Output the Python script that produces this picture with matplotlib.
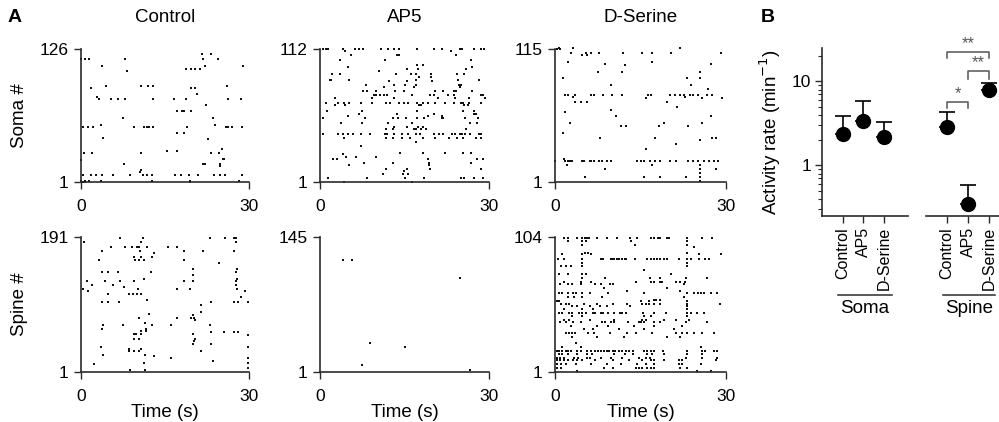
import numpy as np
import matplotlib
matplotlib.use("Agg")
import matplotlib.pyplot as plt
from matplotlib.ticker import LogLocator, NullFormatter, FixedLocator
import matplotlib.transforms as mtransforms

plt.rcParams['font.family'] = ['Liberation Sans', 'DejaVu Sans']

# ---------------- Data: raster rows as (cell index, [event times in s]) ----------------
soma_control_rows = [
    (121, [21.6, 23.2]), (117, [0.0, 0.8, 1.4, 7.8, 21.8, 24.5]), (110, [3.8, 22.1, 29.0]),
    (107, [18.7, 19.6, 20.4, 21.2]), (105, [8.3]), (91, [4.4, 10.8, 12.0, 12.8, 26.0]),
    (89, [1.7, 19.7, 20.4]), (84, [20.7]), (81, [2.8]),
    (79, [3.2, 5.4, 6.6, 7.9, 12.8, 16.6, 18.7, 26.2, 28.6]), (73, [22.3]),
    (68, [17.2, 18.1, 18.4, 19.7]), (61, [7.5, 23.5]), (55, [3.5, 24.0]),
    (53, [0.4, 1.3, 2.2, 9.5, 11.3, 11.7, 12.2, 12.8, 18.9, 25.9, 26.3, 26.9, 28.8]),
    (47, [17.2, 18.4]), (42, [3.9]), (41, [22.6]), (32, [25.2]), (30, [15.3, 17.2]),
    (28, [0.5, 2.0, 10.8, 23.3, 24.7]), (23, [25.3, 25.5]), (22, [0.06]),
    (18, [7.7, 21.7, 22.1, 24.9]), (16, [24.9]), (12, [10.7]), (10, [10.5]),
    (8, [0.4, 1.7, 2.6, 3.7, 5.7, 8.7, 11.0, 11.7, 12.6, 16.8, 17.8, 19.3, 20.9, 23.8, 24.9, 25.8, 28.8]),
    (2, [0.06, 0.8, 1.4, 3.5, 12.6, 19.4, 28.2]), (1, [0.3, 0.8, 19.5]),
]
soma_ap5_rows = [
    (112, [0.6, 1.1, 1.5, 4.0, 6.3, 6.9, 7.6, 10.8, 12.0, 13.1, 14.0, 17.3, 20.2, 21.7, 24.8, 25.2, 27.3, 28.5, 29.2]),
    (110, [4.4, 23.2]), (107, [5.5, 13.6, 14.0, 24.1]), (103, [3.5, 11.5, 26.8]), (99, [17.3, 18.2]),
    (97, [4.9, 27.0]), (95, [15.4, 17.4, 25.9]), (94, [10.5]),
    (91, [2.1, 3.6, 13.5, 16.1, 17.1, 19.7, 24.4, 25.5]), (89, [17.6, 19.7]),
    (86, [1.7, 2.0, 5.1, 17.1, 24.5, 28.3]), (85, [12.3, 15.4, 19.8]),
    (82, [8.1, 13.2, 15.1, 17.1, 24.6, 25.0]), (80, [11.4, 16.7, 24.9]),
    (77, [7.6, 8.4, 10.0, 13.3, 14.9, 20.4, 21.8, 23.7, 24.1, 27.0]),
    (74, [9.6, 9.9, 10.6, 11.3, 11.9, 16.3, 19.5, 20.2, 22.8, 23.7, 28.6, 28.9]),
    (71, [2.7, 9.3, 13.1, 21.0, 24.0, 26.5, 29.3]),
    (67, [1.0, 3.2, 4.3, 5.1, 7.3, 9.3, 11.8, 12.4, 14.0, 14.9, 15.7, 17.3, 18.2, 19.1, 20.4, 22.2, 23.7, 25.1, 25.4, 26.5, 28.6]),
    (65, [2.6, 4.5, 17.6, 18.0, 25.5, 26.3]), (60, [1.2, 7.5, 17.3, 25.3, 27.3]),
    (58, [7.0, 13.6, 20.3, 27.3, 27.7]), (56, [4.9, 19.1, 21.6]),
    (54, [0.6, 7.9, 13.0, 13.9, 15.2, 17.3, 18.5, 21.6, 21.8, 25.8, 28.0]),
    (50, [3.75, 7.5, 12.1, 16.4, 26.7, 27.9]), (47, [13.1, 15.5, 17.4, 18.3]),
    (45, [11.7, 12.9, 16.6, 17.0, 18.0, 18.9, 26.0]),
    (41, [0.6, 3.2, 4.0, 4.9, 5.8, 7.3, 8.8, 11.5, 11.9, 13.1, 14.5, 15.7, 17.0, 17.7, 20.3, 21.2, 21.9, 23.4, 24.0, 24.8, 25.2, 25.7, 26.7, 28.3, 28.6]),
    (38, [4.2, 11.8, 12.9, 14.6, 16.0, 18.2, 20.4, 22.9, 24.3, 25.4, 27.7, 28.6]),
    (34, [17.0]), (31, [7.3]), (25, [14.2, 18.2, 22.2, 25.4, 26.8]), (24, [4.0]),
    (22, [4.6, 6.4, 9.9]), (20, [2.3, 3.0, 19.1, 27.9, 28.9]), (17, [7.8, 13.0, 19.3, 26.8]),
    (15, [5.1, 19.4]), (12, [11.7, 15.4, 19.5, 28.6]), (10, [14.9]), (8, [11.2, 14.8, 15.7]),
    (4, [1.5, 8.4, 15.1, 18.5, 25.0, 25.5, 27.3, 28.9]), (1, [4.3, 16.3]),
]
soma_dser_rows = [
    (116, [0.65, 3.1, 22.0]), (115, [0.35, 0.8]),
    (112, [2.8, 5.4, 6.4, 7.8, 11.9, 15.3, 17.1, 20.3, 29.2]), (110, [4.8, 5.6]),
    (104, [2.25, 17.1]), (102, [8.8, 27.3]), (101, [12.3]), (95, [7.6, 11.8, 25.5]),
    (90, [1.4, 23.1, 25.5]), (84, [9.8, 23.9]), (81, [26.8]),
    (76, [1.7, 2.25, 3.5, 6.4, 6.9, 8.5, 10.0, 11.8, 16.3, 16.9, 20.2, 21.1, 22.0, 22.7, 23.6, 24.2, 25.1, 26.7, 27.5]),
    (74, [3.1, 22.8]), (73, [16.0, 25.8, 29.3]), (70, [3.5, 4.6, 5.6, 19.6]), (65, [21.4]),
    (63, [9.8]), (61, [1.7]), (58, [10.7, 27.3]), (52, [2.7, 19.2, 25.8]),
    (49, [11.6, 12.4, 18.3, 23.4]), (43, [1.4]), (39, [7.9, 17.5, 27.5, 28.2]), (37, [25.4]),
    (34, [21.2]), (29, [16.0]), (21, [1.5]),
    (19, [0.0, 1.7, 2.2, 2.7, 2.9, 4.7, 5.1, 6.1, 6.4, 6.9, 7.8, 8.3, 9.1, 9.8, 14.4, 15.0, 15.6, 16.6, 17.5, 18.5, 20.2, 21.2, 23.4, 24.2, 25.1, 26.1, 27.0, 27.9, 28.6]),
    (16, [2.1, 17.1, 25.5]), (12, [8.8, 25.5, 28.3]), (9, [25.5]),
    (5, [5.2, 15.6, 18.4, 23.0, 25.5]), (2, [25.5]),
]
spine_control_rows = [
    (189, [6.9, 11.0, 23.1, 25.8, 27.4, 27.7]), (184, [0.5, 10.7, 27.6]),
    (177, [5.4, 7.8, 9.1, 10.0, 10.4, 11.7, 15.5, 17.2]), (172, [3.7, 10.6, 18.4, 21.8, 27.3]),
    (168, [13.0]), (163, [9.4, 10.7, 12.6]), (158, [3.3, 9.7, 10.4, 11.3, 18.4]), (154, [24.7]),
    (146, [20.0, 27.9]), (142, [3.7, 4.8, 6.6, 12.5, 27.7]), (138, [20.0]), (132, [11.3, 27.9]),
    (129, [1.1, 4.2, 6.9, 9.4, 18.4, 20.0, 27.6]), (124, [1.9, 5.7, 27.7]), (121, [7.75]),
    (118, [0.4, 10.1, 17.2, 19.4, 27.9]), (115, [1.2, 29.2]), (111, [4.8, 8.6, 9.2, 10.0, 10.7]),
    (107, [28.5]), (103, [11.7]), (100, [3.7, 4.8, 6.7, 23.3, 27.4, 28.0, 29.9]), (96, [21.5]),
    (86, [21.5]), (83, [12.1]), (81, [20.0]), (77, [10.3, 17.2, 19.6, 20.2]), (74, [20.3]),
    (70, [11.5]), (67, [3.9, 7.5, 12.6, 16.1, 23.1]), (62, [3.7, 11.6]), (59, [10.7, 11.6]),
    (57, [23.3, 25.6, 27.4, 28.0]), (55, [9.4, 9.8, 10.7, 20.0]), (53, [29.8]),
    (48, [9.4, 10.3, 20.3]), (44, [20.2]), (41, [20.0, 23.3]), (36, [3.6, 29.8]),
    (33, [8.5, 10.7]), (31, [8.6, 9.4, 10.3, 21.5]), (25, [3.9, 11.4]), (23, [13.0]),
    (21, [16.1, 29.8]), (17, [23.6]), (14, [11.2, 29.8]), (12, [2.4]), (6, [29.8]), (4, [8.8, 11.5]),
]
spine_ap5_rows = [
    (120, [4.1, 5.6]), (101, [24.9]), (32, [8.9]), (28, [15.0]), (9, [7.5]), (3, [26.7]),
]
spine_dser_rows = [
    (103, [1.5, 2.3, 3.8, 4.8, 5.2, 5.7, 5.95, 7.3, 9.2, 10.9, 13.2, 14.4, 16.8, 17.4, 18.0, 18.5, 19.7, 20.0, 23.2, 25.8, 27.6]),
    (101, [2.2, 4.8, 5.4, 13.3, 23.1]), (98, [4.7, 14.0, 23.2]), (96, [24.3]), (92, [5.2, 5.8, 23.2]),
    (91, [1.3, 4.7, 6.3, 25.3, 29.1]),
    (87, [0.5, 1.5, 4.7, 8.0, 8.5, 9.8, 10.1, 10.4, 10.8, 11.2, 11.8, 12.2, 12.4, 14.0, 16.2, 16.8, 17.4, 17.95, 18.5, 19.1, 19.7, 21.8, 23.1, 23.8, 25.3, 26.4, 27.0]),
    (84, [4.8, 23.1]), (82, [1.1, 2.0, 2.75, 4.8, 23.2]), (79, [15.6]), (76, [0.7, 2.2, 4.8, 5.5, 20.3]),
    (73, [4.8, 8.7, 16.7, 18.5, 22.9, 26.7]),
    (70, [1.5, 4.5, 6.3, 14.2, 16.8, 17.4, 18.4, 18.8, 21.3, 21.9, 22.8]),
    (68, [0.9, 2.2, 2.9, 4.5, 7.1, 8.0, 9.6, 10.1, 22.6]), (65, [8.6, 19.7]), (63, [12.6, 22.0]),
    (61, [0.7, 1.3, 2.2, 3.2, 3.6, 4.8, 6.1, 9.3, 15.6, 23.1, 24.4, 25.0, 25.6, 26.1, 27.3, 28.5]),
    (58, [2.2, 3.4, 4.8, 8.3, 22.7]), (56, [17.3, 17.8, 18.4]), (55, [0.4, 0.7, 15.1, 16.5, 23.1]),
    (53, [1.0, 1.9, 2.5, 5.1, 7.4, 10.1, 12.7, 15.3, 15.9, 16.5, 17.4, 18.4, 23.1, 29.0]),
    (51, [3.0, 3.8, 6.1, 7.9, 9.2, 13.2, 23.2]), (49, [1.5, 4.8, 6.7, 23.1]),
    (46, [0.7, 1.3, 2.5, 3.0, 4.2, 4.8, 5.4, 6.7, 7.1, 8.0, 8.5, 9.3, 10.4, 11.4, 11.8, 12.4, 15.5, 17.4, 19.4, 23.2, 23.8, 24.9, 26.1]),
    (44, [3.0, 4.8, 15.6, 16.8, 23.2]), (41, [1.5, 2.5, 6.1, 10.4, 15.2, 15.9, 19.1, 21.2, 23.5]),
    (39, [0.9, 1.9, 3.2, 4.6, 8.3, 8.7, 9.9, 10.4, 12.8, 14.7, 15.1, 15.6, 17.4, 18.4, 22.9, 26.7]),
    (36, [2.75, 7.4, 9.3, 13.9, 17.4, 22.3]), (34, [5.1, 6.7, 11.2, 15.6, 20.8]),
    (31, [1.9, 2.5, 3.0, 3.5, 5.8, 6.8, 9.6, 12.7, 14.2, 17.1, 21.3, 22.3, 23.2, 24.4, 25.8, 27.9]),
    (28, [3.0, 7.4, 12.1, 19.7, 21.9]), (23, [3.6]), (20, [1.3, 4.5, 25.6]),
    (17, [0.3, 0.7, 1.3, 1.9, 2.3, 2.75, 3.9, 4.5, 5.6, 6.3, 7.1, 7.5, 8.0, 8.6, 9.1, 9.5, 10.1, 10.6, 11.2, 11.8, 12.4, 13.0, 13.6, 15.6, 16.2, 16.8, 17.4, 19.0, 23.2, 25.8, 26.4, 27.9, 28.5]),
    (15, [0.7, 1.3, 2.2, 3.9, 5.7, 6.5, 10.4, 12.2, 13.6, 16.2, 17.1, 19.1, 23.2, 25.8]),
    (12, [0.4, 0.9, 1.6, 3.3, 4.0, 5.6, 6.1, 8.0, 9.8, 11.8, 14.7, 15.9, 16.7, 22.9, 25.8, 28.5]),
    (10, [0.4, 0.9, 1.5, 2.2, 3.2, 3.8, 4.8, 7.1, 10.1, 13.0, 15.3, 16.8, 17.4, 19.1, 21.8, 22.3, 28.2]),
    (7, [0.4, 1.0, 1.9, 3.6, 6.3, 9.2, 11.5, 14.4, 15.9, 17.4, 21.8, 22.3, 25.6]),
    (4, [0.4, 1.0, 8.6, 10.2, 14.2, 14.7, 15.3, 16.2, 16.8, 17.4, 22.0, 23.2]),
    (2, [3.9, 24.9, 27.3]),
]

conditions = ["Control", "AP5", "D-Serine"]
soma_counts = [126, 112, 115]
spine_counts = [191, 145, 104]
duration = 30

# Panel B: activity rates (min^-1), mean and upper error
soma_rate = [2.34, 3.34, 2.2]
soma_err_top = [3.83, 5.78, 3.3]
spine_rate = [2.9, 0.35, 8.0]
spine_err_top = [4.3, 0.59, 9.6]

# ---------------- Figure ----------------
W, H = 999, 422
fig = plt.figure(figsize=(W / 100, H / 100), dpi=100)
axcol = '#2b2b2b'


def px_rect(x0, x1, y_top, y_bot):
    return [x0 / W, 1 - y_bot / H, (x1 - x0) / W, (y_bot - y_top) / H]


col_x = [(81, 249), (320, 489), (555, 726)]
row_y = [(49, 182), (237, 372)]
raster_rows = [[soma_control_rows, soma_ap5_rows, soma_dser_rows],
               [spine_control_rows, spine_ap5_rows, spine_dser_rows]]
counts = [soma_counts, spine_counts]
ylabels = ["Soma #", "Spine #"]

for r in range(2):
    for c in range(3):
        ax = fig.add_axes(px_rect(col_x[c][0], col_x[c][1], row_y[r][0], row_y[r][1]))
        rows = raster_rows[r][c]
        ts = np.concatenate([np.array(t, float) for _, t in rows])
        cs = np.concatenate([np.full(len(t), cell, float) for cell, t in rows])
        ax.scatter(ts, cs, s=1.5, marker='s', color='#111111', linewidths=0, clip_on=False)
        n = counts[r][c]
        ax.set_xlim(0, duration)
        ax.set_ylim(1, n)
        ax.set_xticks([0, duration])
        ax.set_yticks([1, n])
        ax.set_xticklabels(["0", "30"])
        ax.set_yticklabels(["1", str(n)])
        for s in ['top', 'right']:
            ax.spines[s].set_visible(False)
        for s in ['left', 'bottom']:
            ax.spines[s].set_color(axcol)
            ax.spines[s].set_linewidth(1.2)
        ax.tick_params(direction='out', length=5, width=1.0, color=axcol,
                       labelsize=12.5, pad=4)
        ax.tick_params(axis='x', pad=7)
        if c == 0:
            ax.set_ylabel(ylabels[r], fontsize=13.5, labelpad=8)
        if r == 1:
            ax.set_xlabel("Time (s)", fontsize=13.5, labelpad=0)
        if r == 0:
            fig.text((col_x[c][0] + col_x[c][1]) / 2 / W, 1 - 18 / H, conditions[c],
                     ha='center', va='center', fontsize=13.5)

fig.text(15 / W, 1 - 18 / H, "A", ha='center', va='center', fontsize=14, fontweight='bold')
fig.text(768 / W, 1 - 18 / H, "B", ha='center', va='center', fontsize=14, fontweight='bold')

# ---------------- Panel B ----------------
yl = (0.25, 25)
axs = fig.add_axes(px_rect(822, 908, 48, 216))
axp = fig.add_axes(px_rect(926, 999.5, 48, 216))
x_pos = np.arange(3)
for ax, rate, top, xl in [(axs, soma_rate, soma_err_top, (-1.02, 3.17)),
                          (axp, spine_rate, spine_err_top, (-1.0, 2.5))]:
    rate = np.array(rate)
    top = np.array(top)
    ax.errorbar(x_pos, rate, yerr=[np.zeros(3), top - rate], fmt='none', ecolor='black',
                elinewidth=1.2, capsize=5.5, capthick=1.2, zorder=2)
    ax.plot(x_pos, rate, 'o', color='black', markersize=10, zorder=3)
    ax.set_yscale('log')
    ax.set_ylim(*yl)
    ax.set_xlim(*xl)
    ax.set_xticks(x_pos)
    ax.set_xticklabels(conditions, rotation=90, fontsize=11.5)
    for s in ['top', 'right']:
        ax.spines[s].set_visible(False)
    for s in ['left', 'bottom']:
        ax.spines[s].set_color(axcol)
        ax.spines[s].set_linewidth(1.2)
    ax.tick_params(axis='x', direction='out', length=5, width=1.0, color=axcol, pad=3)

axs.yaxis.set_major_locator(FixedLocator([1, 10]))
axs.set_yticklabels(["1", "10"])
axs.yaxis.set_minor_locator(LogLocator(base=10, subs=np.arange(2, 10) * 1.0))
axs.yaxis.set_minor_formatter(NullFormatter())
axs.tick_params(axis='y', which='major', direction='out', length=5, width=1.0,
                color=axcol, labelsize=12.5, pad=3)
axs.tick_params(axis='y', which='minor', direction='out', length=3, width=0.8, color=axcol)
axs.set_ylabel("Activity rate (min$^{-1}$)", fontsize=13.5, labelpad=6)

axp.spines['left'].set_visible(False)
axp.tick_params(axis='y', which='both', left=False, labelleft=False)

# group labels
for ax, (x0, x1), name in [(axs, (-0.25, 2.4), "Soma"), (axp, (-0.2, 2.3), "Spine")]:
    tr = mtransforms.blended_transform_factory(ax.transData, ax.transAxes)
    ax.plot([x0, x1], [-0.47, -0.47], transform=tr, color=axcol, lw=1.1, clip_on=False)
    ax.text((x0 + x1) / 2, -0.55, name, transform=tr, ha='center', va='center', fontsize=13.5)

# significance brackets on the spine axis
bcol = '#555555'
brackets = [(0, 1, 5.73, 4.86, "*"), (1, 2, 13.4, 10.8, "**"), (0, 2, 22.6, 19.1, "**")]
for x0, x1, ytop, yleg, star in brackets:
    axp.plot([x0, x0, x1, x1], [yleg, ytop, ytop, yleg], color=bcol, lw=1.1, clip_on=False)
    axp.text((x0 + x1) / 2, ytop * 1.02, star, ha='center', va='bottom', fontsize=12,
             color=bcol, clip_on=False)

fig.savefig("out.png", dpi=100)
